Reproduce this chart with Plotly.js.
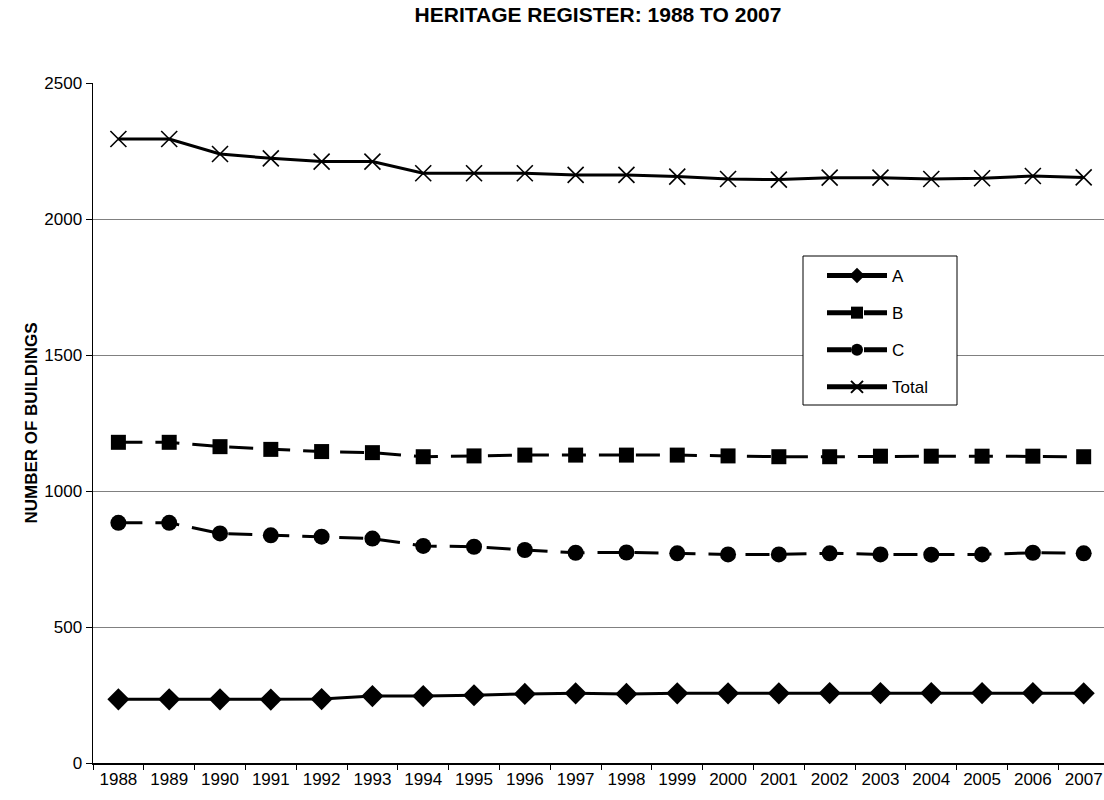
<!DOCTYPE html>
<html>
<head>
<meta charset="utf-8">
<script src="https://cdn.plot.ly/plotly-3.0.1.min.js"></script>
<style>html,body{margin:0;padding:0;background:#fff;}#chart{width:1104px;height:800px;}</style>
</head>
<body>
<div id="chart"></div>
<script>
const years = ["1988","1989","1990","1991","1992","1993","1994","1995","1996","1997","1998","1999","2000","2001","2002","2003","2004","2005","2006","2007"];
const seriesA = [234,234,234,233,235,246,246,249,254,256,254,256,256,256,257,257,257,257,257,256];
const seriesB = [1179,1179,1163,1153,1145,1141,1126,1129,1132,1132,1132,1132,1129,1126,1126,1128,1128,1128,1128,1126];
const seriesC = [883,883,844,837,832,825,798,795,783,773,774,771,767,767,771,767,766,767,773,771];
const seriesTotal = [2294,2294,2239,2223,2211,2211,2168,2168,2168,2162,2162,2156,2147,2145,2152,2152,2147,2150,2158,2153];
const yTicks = [0,500,1000,1500,2000,2500];
const gridTicks = [500,1000,1500,2000];

const font = "Liberation Sans, Arial, sans-serif";
const W = 1104, H = 800, L = 93, T = 83, PW = W - L, PH = 763 - T;
const px = x => (x - L) / PW;          // figure px -> plot-area paper x
const py = y => 1 - (y - T) / PH;       // figure px -> plot-area paper y

const traces = [
  {x: years, y: seriesA, name: "A", type: "scatter", mode: "lines+markers", legendgroup: "a",
   line: {color: "#000", width: 3}, marker: {symbol: "diamond", size: 17, color: "#000"}},
  {x: years, y: seriesB, name: "B", type: "scatter", mode: "lines+markers", legendgroup: "b",
   line: {color: "#000", width: 3, dash: "24px,13px"}, marker: {symbol: "square", size: 15, color: "#000"}},
  {x: years, y: seriesC, name: "C", type: "scatter", mode: "lines+markers", legendgroup: "c",
   line: {color: "#000", width: 3, dash: "24px,13px"}, marker: {symbol: "circle", size: 16, color: "#000"}},
  {x: years, y: seriesTotal, name: "Total", type: "scatter", mode: "lines+markers", legendgroup: "t",
   line: {color: "#000", width: 3}, marker: {symbol: "x-thin-open", size: 16, color: "#000", line: {width: 1.6, color: "#000"}}},
  {x: years, y: seriesA, yaxis: "y2", type: "scatter", mode: "none", showlegend: false, hoverinfo: "skip"}
];

const layout = {
  width: W, height: H,
  paper_bgcolor: "#fff", plot_bgcolor: "rgba(0,0,0,0)",
  margin: {l: L, r: 0, t: T, b: H - 763, pad: 0},
  font: {family: font, color: "#000", size: 17},
  title: {text: "<b>HERITAGE REGISTER: 1988 TO 2007</b>", x: 598 / W, xanchor: "center", xref: "container",
          y: 1 - 15 / H, yanchor: "middle", yref: "container", font: {family: font, size: 21, color: "#000"}},
  showlegend: true,
  shapes: [{type: "rect", xref: "paper", yref: "paper", x0: px(803), x1: px(957), y0: py(256), y1: py(405),
            line: {color: "#000", width: 1}, fillcolor: "#fff", layer: "above"}],
  legend: {x: px(822), xref: "paper", xanchor: "left", y: py(258), yref: "paper", yanchor: "top",
           borderwidth: 0, bgcolor: "rgba(0,0,0,0)", tracegroupgap: 12, itemwidth: 60,
           itemsizing: "constant",
           font: {family: font, size: 17, color: "#000"}},
  xaxis: {type: "category", range: [-0.5, 19.4], showline: true, linecolor: "#000", linewidth: 1.5,
          tickangle: 0,
          ticks: "outside", tickson: "boundaries", ticklen: 5, tickcolor: "#000", tickwidth: 1,
          showgrid: false, zeroline: false, automargin: false, tickfont: {family: font, size: 17, color: "#000"}},
  yaxis: {range: [0, 2500], tickvals: yTicks, ticktext: yTicks.map(String), showline: true, linecolor: "#000", linewidth: 1.5,
          ticks: "outside", ticklen: 6, tickcolor: "#000", showgrid: false, zeroline: false, automargin: false,
          tickfont: {family: font, size: 17, color: "#000"},
          title: {text: "<b>NUMBER OF BUILDINGS</b>", standoff: 2, font: {family: font, size: 17, color: "#000"}}},
  yaxis2: {range: [0, 2500], overlaying: "y", tickvals: gridTicks, showticklabels: false, showgrid: true,
           gridcolor: "#808080", gridwidth: 1, zeroline: false, showline: false, ticks: ""}
};

Plotly.newPlot("chart", traces, layout, {displayModeBar: false, staticPlot: true});
</script>
</body>
</html>
